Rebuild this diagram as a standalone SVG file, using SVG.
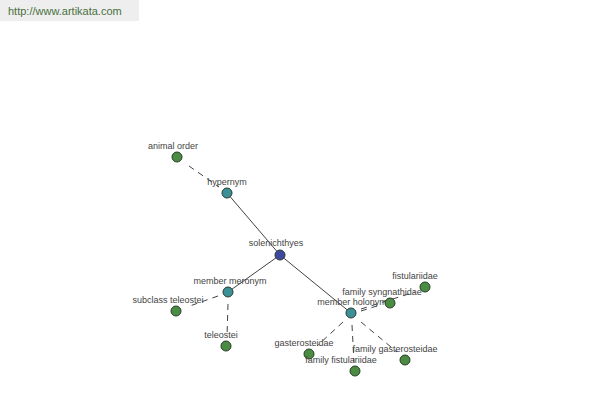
<svg xmlns="http://www.w3.org/2000/svg" width="600" height="400" viewBox="0 0 600 400">
<style>
text{font-family:"Liberation Sans",Arial,sans-serif;}
.lbl{font-size:9px;fill:#444;text-anchor:middle;}
.n{stroke:#2a3a2a;stroke-width:1;}
.root{fill:#3d4aa0;}
.mid{fill:#3c9097;}
.leaf{fill:#4a8c42;}
.s{stroke:#111;stroke-width:0.8;fill:none;}
.d{stroke:#111;stroke-width:0.8;fill:none;stroke-dasharray:6,5;}
</style>
<rect x="0" y="0" width="600" height="400" fill="#fff"/>
<g id="banner">
<rect x="0" y="0" width="139" height="21" fill="#eeeeee"/>
<text x="8" y="15" font-size="11" fill="#4a7040">http://www.artikata.com</text>
</g>
<g id="connectors">
<line class="s" x1="227" y1="193" x2="280" y2="255"/>
<line class="s" x1="280" y1="255" x2="228" y2="292"/>
<line class="s" x1="280" y1="255" x2="351" y2="313"/>
<line class="d" x1="189" y1="166" x2="219" y2="187"/>
<line class="d" x1="218" y1="296" x2="187" y2="307"/>
<line class="d" x1="228" y1="304" x2="227" y2="337"/>
<line class="d" x1="361" y1="309" x2="415" y2="292"/>
<line class="d" x1="361" y1="311" x2="380" y2="305"/>
<line class="d" x1="343" y1="322" x2="317" y2="346"/>
<line class="d" x1="352" y1="325" x2="354" y2="362"/>
<line class="d" x1="361" y1="322" x2="397" y2="352"/>
</g>
<g id="animal-order"><circle class="n leaf" cx="177" cy="157" r="5"/><text class="lbl" x="173" y="149">animal order</text></g>
<g id="hypernym"><circle class="n mid" cx="227" cy="193" r="5"/><text class="lbl" x="227" y="185">hypernym</text></g>
<g id="solenichthyes"><circle class="n root" cx="280" cy="255" r="5"/><text class="lbl" x="276" y="246">solenichthyes</text></g>
<g id="member-meronym"><circle class="n mid" cx="228" cy="292" r="5"/><text class="lbl" x="230" y="284">member meronym</text></g>
<g id="subclass-teleostei"><circle class="n leaf" cx="176" cy="311" r="5"/><text class="lbl" x="168" y="303">subclass teleostei</text></g>
<g id="teleostei"><circle class="n leaf" cx="226" cy="346" r="5"/><text class="lbl" x="221" y="338">teleostei</text></g>
<g id="member-holonym"><circle class="n mid" cx="351" cy="313" r="5"/><text class="lbl" x="352" y="305">member holonym</text></g>
<g id="fistulariidae"><circle class="n leaf" cx="425" cy="287" r="5"/><text class="lbl" x="415" y="279">fistulariidae</text></g>
<g id="family-syngnathidae"><circle class="n leaf" cx="390" cy="303" r="5"/><text class="lbl" x="382" y="295">family syngnathidae</text></g>
<g id="gasterosteidae"><circle class="n leaf" cx="309" cy="354" r="5"/><text class="lbl" x="304" y="346">gasterosteidae</text></g>
<g id="family-fistulariidae"><circle class="n leaf" cx="355" cy="371" r="5"/><text class="lbl" x="341" y="363">family fistulariidae</text></g>
<g id="family-gasterosteidae"><circle class="n leaf" cx="405" cy="360" r="5"/><text class="lbl" x="395" y="352">family gasterosteidae</text></g>
</svg>
